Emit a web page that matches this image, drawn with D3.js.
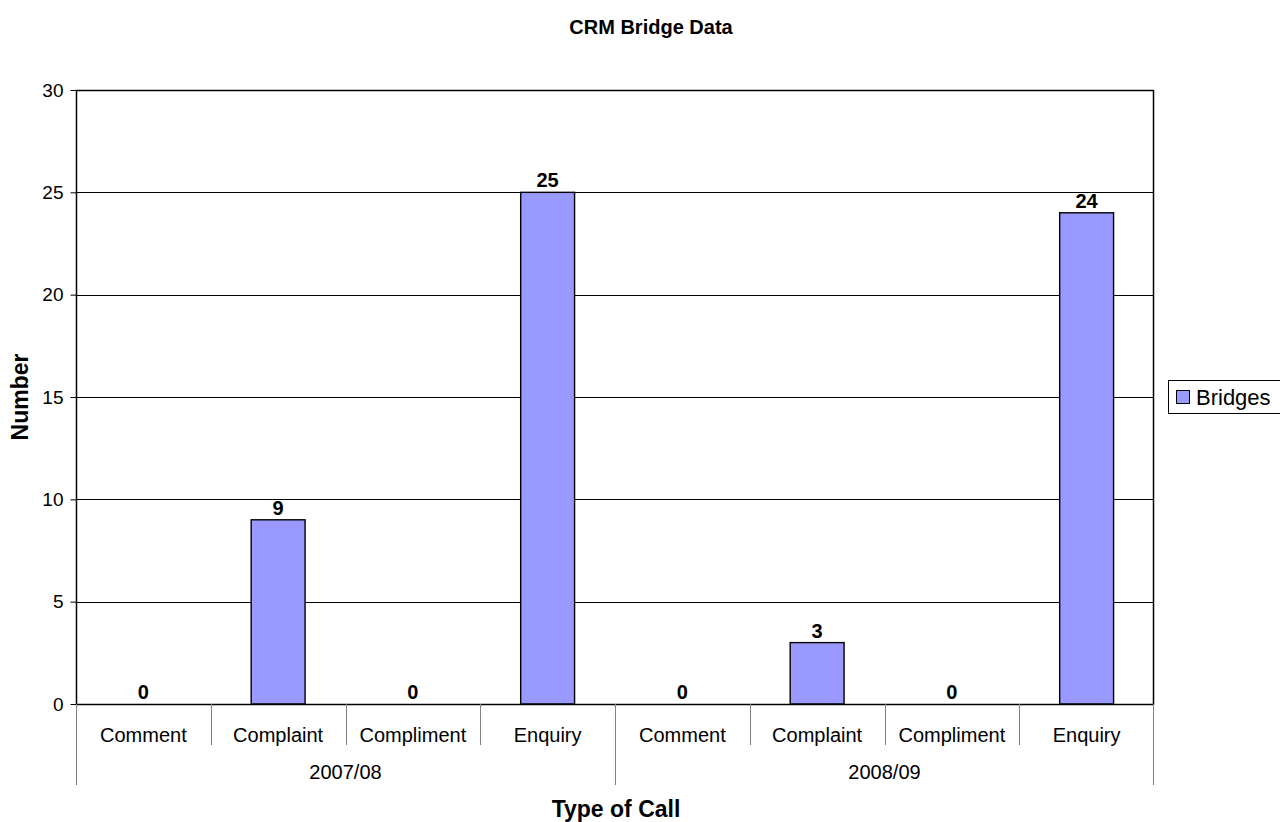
<!DOCTYPE html>
<html>
<head>
<meta charset="utf-8">
<script src="https://cdn.jsdelivr.net/npm/d3@7"></script>
<style>
  body { margin: 0; background: #fff; }
  svg { font-family: "Liberation Sans", Arial, sans-serif; }
</style>
</head>
<body>
<svg id="chart" width="1280" height="822"></svg>
<script>
// Call counts by type, grouped by financial year
const years = ["2007/08", "2008/09"];
const callTypes = ["Comment", "Complaint", "Compliment", "Enquiry"];
const bridges2007 = [0, 9, 0, 25];
const bridges2008 = [0, 3, 0, 24];
const yTicks = [0, 5, 10, 15, 20, 25, 30];
const seriesName = "Bridges";

const rows = [];
years.forEach((yr, gi) => {
  const vals = gi === 0 ? bridges2007 : bridges2008;
  callTypes.forEach((t, i) => rows.push({ key: yr + "|" + t, year: yr, type: t, value: vals[i] }));
});

const FONT = "Liberation Sans, Arial, sans-serif";
const svg = d3.select("#chart");
const plot = { left: 76, right: 1154, top: 90, bottom: 704 };

const x = d3.scaleBand().domain(rows.map(d => d.key)).range([plot.left, plot.right]).paddingInner(0).paddingOuter(0);
const y = d3.scaleLinear().domain([0, 30]).range([plot.bottom, plot.top]);
const barW = x.bandwidth() * 0.4;

// Title
svg.append("text").attr("x", 651).attr("y", 34).attr("text-anchor", "middle")
  .attr("font-size", 20).attr("font-weight", "bold").text("CRM Bridge Data");

// Gridlines
svg.append("g").selectAll("line").data(yTicks.filter(t => t > 0)).join("line")
  .attr("x1", plot.left).attr("x2", plot.right)
  .attr("y1", d => Math.round(y(d)) + 0.5).attr("y2", d => Math.round(y(d)) + 0.5)
  .attr("stroke", "#000").attr("stroke-width", 1);

// Y axis
const yAxis = svg.append("g").attr("transform", `translate(${plot.left + 0.5},0)`)
  .call(d3.axisLeft(y).tickValues(yTicks).tickSize(6).tickPadding(7));
yAxis.select(".domain").remove();
yAxis.selectAll("line").attr("stroke", "#000");
yAxis.selectAll("text").attr("font-size", 19).attr("font-family", FONT).attr("fill", "#000");

// Bars
svg.append("g").selectAll("rect").data(rows).join("rect")
  .attr("x", d => x(d.key) + (x.bandwidth() - barW) / 2)
  .attr("y", d => y(d.value))
  .attr("width", barW)
  .attr("height", d => y(0) - y(d.value))
  .attr("fill", "#9999FF").attr("stroke", "#000").attr("stroke-width", 1.4);

// Value labels
svg.append("g").selectAll("text").data(rows).join("text")
  .attr("x", d => x(d.key) + x.bandwidth() / 2)
  .attr("y", d => y(d.value) - 5)
  .attr("text-anchor", "middle").attr("font-size", 20).attr("font-weight", "bold")
  .text(d => d.value);

// Plot border
svg.append("rect").attr("x", plot.left + 0.5).attr("y", plot.top + 0.5)
  .attr("width", plot.right - plot.left - 1).attr("height", plot.bottom - plot.top)
  .attr("fill", "none").attr("stroke", "#000").attr("stroke-width", 1.5);

// Category separators (two-level axis)
const catLines = svg.append("g").attr("stroke", "#808080").attr("stroke-width", 1);
rows.forEach((d, i) => {
  if (i === 0) return;
  const xx = Math.round(x(d.key)) + 0.5;
  const full = i % callTypes.length === 0;
  catLines.append("line").attr("x1", xx).attr("x2", xx)
    .attr("y1", plot.bottom).attr("y2", full ? 785 : 745);
});
[plot.left + 0.5, plot.right - 0.5].forEach(xx => {
  catLines.append("line").attr("x1", xx).attr("x2", xx).attr("y1", plot.bottom).attr("y2", 785);
});

// Category labels
svg.append("g").selectAll("text").data(rows).join("text")
  .attr("x", d => x(d.key) + x.bandwidth() / 2).attr("y", 742)
  .attr("text-anchor", "middle").attr("font-size", 20).text(d => d.type);

// Year labels
svg.append("g").selectAll("text").data(years).join("text")
  .attr("x", yr => {
    const ks = rows.filter(r => r.year === yr).map(r => x(r.key));
    return (d3.min(ks) + d3.max(ks) + x.bandwidth()) / 2;
  })
  .attr("y", 779).attr("text-anchor", "middle").attr("font-size", 20).text(yr => yr);

// Axis titles
svg.append("text").attr("x", 616).attr("y", 817).attr("text-anchor", "middle")
  .attr("font-size", 23).attr("font-weight", "bold").text("Type of Call");
svg.append("text").attr("transform", "translate(28,397) rotate(-90)").attr("text-anchor", "middle")
  .attr("font-size", 23).attr("font-weight", "bold").text("Number");

// Legend
const lg = svg.append("g");
lg.append("rect").attr("x", 1168.5).attr("y", 380.5).attr("width", 130).attr("height", 33)
  .attr("fill", "#fff").attr("stroke", "#000").attr("stroke-width", 1);
lg.append("rect").attr("x", 1176.5).attr("y", 390.5).attr("width", 13).attr("height", 13)
  .attr("fill", "#9999FF").attr("stroke", "#000").attr("stroke-width", 1);
lg.append("text").attr("x", 1196).attr("y", 405).attr("font-size", 22).text(seriesName);
</script>
</body>
</html>
